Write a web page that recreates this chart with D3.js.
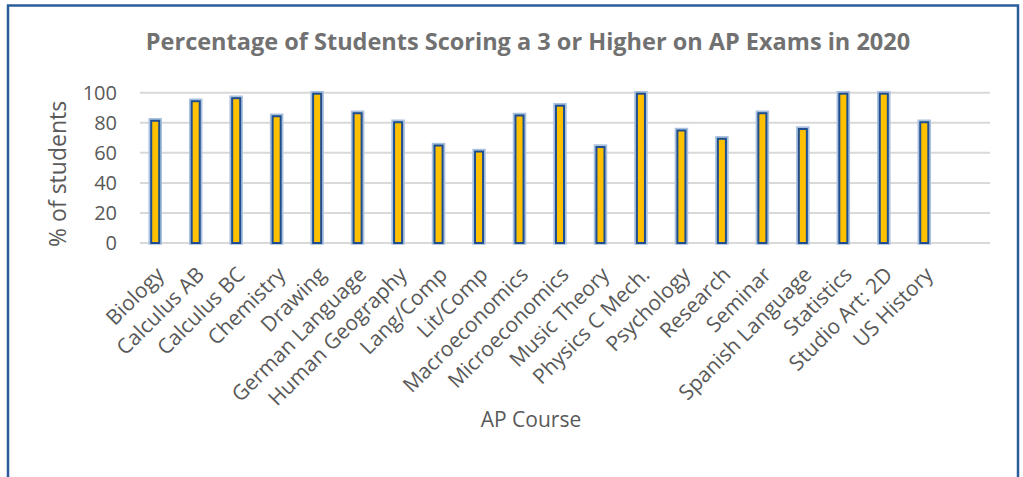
<!DOCTYPE html>
<html>
<head>
<meta charset="utf-8">
<script src="https://cdn.jsdelivr.net/npm/d3@7"></script>
<style>
  body { margin: 0; background: #fff; }
  text { font-family: "Open Sans", sans-serif; }
</style>
</head>
<body>
<div id="chart"></div>
<script>
// AP exam pass rates, 2020
const width = 1023;
const height = 477;

const courses = [
    'Biology', 'Calculus AB', 'Calculus BC', 'Chemistry', 'Drawing',
    'German Language', 'Human Geography', 'Lang/Comp', 'Lit/Comp',
    'Macroeconomics', 'Microeconomics', 'Music Theory', 'Physics C Mech.',
    'Psychology', 'Research', 'Seminar', 'Spanish Language', 'Statistics',
    'Studio Art: 2D', 'US History'
];
const pctPassing = [
    82, 95, 97, 85, 100,
    87, 81, 65.5, 61.5,
    85.5, 92, 64.5, 100,
    75.5, 70, 87, 76.5, 100,
    100, 81
];
const yTicks = [0, 20, 40, 60, 80, 100];

// the source sheet had an empty trailing row and an empty second series
const slots = courses.concat(['']);
const seriesKeys = ['pct', 'blank'];

const plot = { left: 140, right: 990, top: 92.7, bottom: 243 };

const svg = d3.select('#chart')
    .append('svg')
    .attr('width', width)
    .attr('height', height);

// outer chart border
svg.append('rect')
    .attr('x', 8)
    .attr('y', 5.5)
    .attr('width', 1010)
    .attr('height', 490)
    .attr('fill', 'none')
    .attr('stroke', '#2c5d9b')
    .attr('stroke-width', 2.5);

svg.append('text')
    .attr('x', 528)
    .attr('y', 50)
    .attr('text-anchor', 'middle')
    .attr('font-size', '23.5px')
    .attr('font-weight', 'bold')
    .attr('fill', '#717171')
    .text('Percentage of Students Scoring a 3 or Higher on AP Exams in 2020');

const x = d3.scaleBand()
    .domain(slots)
    .range([plot.left, plot.right])
    .paddingInner(0)
    .paddingOuter(0);

const xSub = d3.scaleBand()
    .domain(seriesKeys)
    .range([0, x.bandwidth()])
    .paddingInner(0)
    .paddingOuter(1.02);

const y = d3.scaleLinear()
    .domain([0, 100])
    .range([plot.bottom, plot.top]);

// gridlines
svg.append('g')
    .selectAll('line')
    .data(yTicks)
    .join('line')
    .attr('x1', plot.left)
    .attr('x2', plot.right)
    .attr('y1', d => y(d))
    .attr('y2', d => y(d))
    .attr('stroke', '#d9d9d9')
    .attr('stroke-width', 2);

// y axis labels
const yAxis = svg.append('g')
    .attr('transform', `translate(${plot.left - 23},0)`)
    .call(d3.axisLeft(y).tickValues(yTicks).tickSize(0).tickPadding(0));
yAxis.select('.domain').remove();
yAxis.selectAll('text')
    .attr('font-size', '20px')
    .attr('fill', '#595959')
    .attr('font-family', '"Open Sans", sans-serif');

svg.append('text')
    .attr('transform', `translate(66,${(plot.top + plot.bottom) / 2 + 6}) rotate(-90)`)
    .attr('text-anchor', 'middle')
    .attr('font-size', '23px')
    .attr('fill', '#595959')
    .text('% of students');

// bars
const bars = svg.append('g')
    .selectAll('g')
    .data(courses.map((c, i) => ({ course: c, value: pctPassing[i] })))
    .join('g')
    .attr('transform', d => `translate(${x(d.course) + xSub('pct')},0)`);

bars.append('rect')
    .attr('x', 0)
    .attr('y', d => y(d.value))
    .attr('width', xSub.bandwidth())
    .attr('height', d => y(0) - y(d.value))
    .attr('fill', 'none')
    .attr('stroke', '#a9c1df')
    .attr('stroke-width', 3.5);

bars.append('rect')
    .attr('x', 1)
    .attr('y', d => y(d.value) + 1)
    .attr('width', xSub.bandwidth() - 2)
    .attr('height', d => y(0) - y(d.value) - 1)
    .attr('fill', '#ffc000')
    .attr('stroke', '#1f4e8f')
    .attr('stroke-width', 2);

// rotated category labels
const xAxis = svg.append('g')
    .attr('transform', `translate(0,${plot.bottom})`)
    .call(d3.axisBottom(x).tickSize(0).tickPadding(0));
xAxis.select('.domain').remove();
xAxis.selectAll('text')
    .attr('font-size', '21px')
    .attr('fill', '#595959')
    .attr('font-family', '"Open Sans", sans-serif')
    .attr('text-anchor', 'end')
    .attr('dy', null)
    .attr('transform', 'translate(5,33) rotate(-45)');

svg.append('text')
    .attr('x', 531)
    .attr('y', 427)
    .attr('text-anchor', 'middle')
    .attr('font-size', '21px')
    .attr('fill', '#595959')
    .text('AP Course');
</script>
</body>
</html>
